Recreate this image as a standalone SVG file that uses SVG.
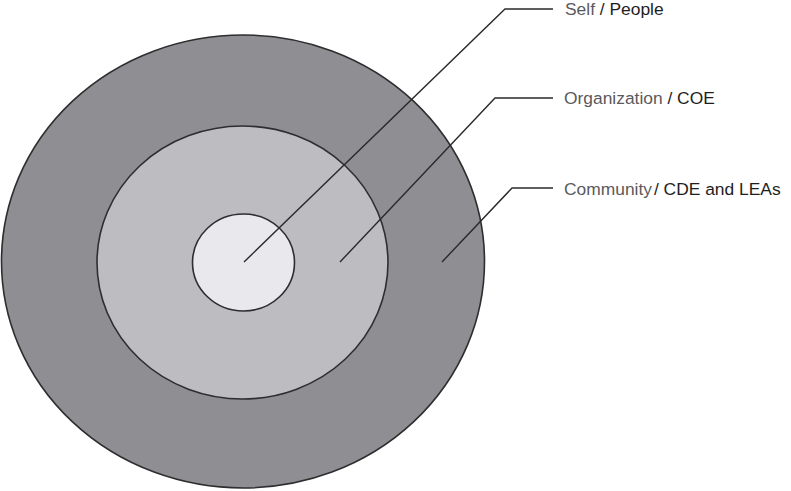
<svg xmlns="http://www.w3.org/2000/svg" width="791" height="491" viewBox="0 0 791 491">
  <style>
    .ring { stroke: #2e2e30; stroke-width: 1.6; }
    .leader { fill: none; stroke: #2a2a2a; stroke-width: 1.4; }
    .lbl { font-family: "Liberation Sans", Arial, sans-serif; font-size: 17.4px; }
    .main { fill: #5a5a5c; }
    .sub { fill: #1e1e1e; }
  </style>
  <rect width="791" height="491" fill="#ffffff"/>

  <g id="community">
    <ellipse class="ring" cx="243" cy="261.5" rx="241.5" ry="226.5" fill="#8f8e93"/>
  </g>
  <g id="organization">
    <ellipse class="ring" cx="242.5" cy="262.5" rx="145.5" ry="136.5" fill="#bdbcc1"/>
  </g>
  <g id="self">
    <ellipse class="ring" cx="243.5" cy="262.5" rx="51" ry="48.5" fill="#e9e8ed"/>
  </g>

  <g id="connectors">
    <polyline class="leader" points="244,262 505,9 553,9"/>
    <polyline class="leader" points="340,262 495,98 553,98"/>
    <polyline class="leader" points="442,262 512,188 553,188"/>
  </g>

  <g id="labels">
    <text class="lbl" x="565" y="15"><tspan class="main">Self</tspan><tspan class="sub"> / People</tspan></text>
    <text class="lbl" x="564" y="104"><tspan class="main">Organization</tspan><tspan class="sub"> / COE</tspan></text>
    <text class="lbl" x="564" y="195"><tspan class="main">Community</tspan><tspan class="sub" dx="2">/ CDE and LEAs</tspan></text>
  </g>
</svg>
